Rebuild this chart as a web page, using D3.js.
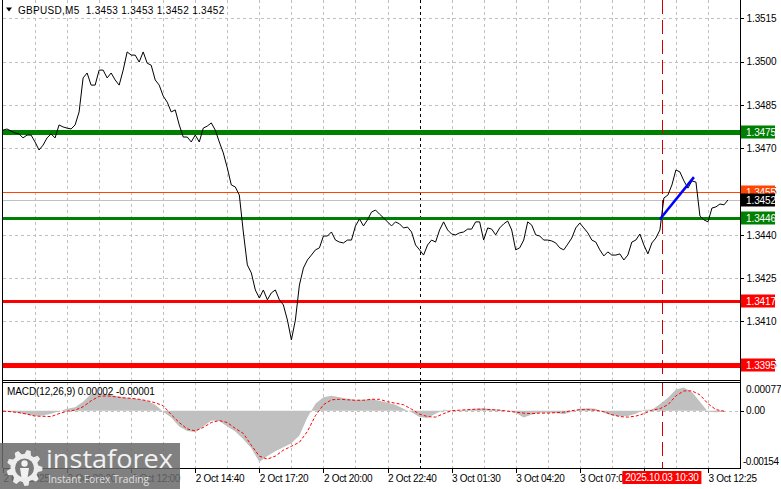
<!DOCTYPE html>
<html><head><meta charset="utf-8">
<script src="https://cdn.jsdelivr.net/npm/d3@7"></script>
<style>
html,body{margin:0;padding:0;background:#fff;}
svg{display:block;font-family:"Liberation Sans",Arial,sans-serif;}
</style></head><body>
<svg id="c" width="781" height="489"></svg>
<script>
// ---------------- DATA ----------------
const headerText = "GBPUSD,M5\u00a0\u00a01.3453 1.3453 1.3452 1.3452";
const macdTitle = "MACD(12,26,9) 0.00002 -0.00001";

// close prices, one value every 2 bars (M5)
const closes = [
1.34763,1.34767,1.34760,1.34753,1.34750,1.34736,1.34746,1.34746,1.34722,1.34694,
1.34711,1.34736,1.34750,1.34736,1.34781,1.34774,1.34770,1.34767,1.34781,1.34826,
1.34944,1.34961,1.34919,1.34919,1.34971,1.34971,1.34944,1.34961,1.34937,1.34919,
1.34971,1.35034,1.35023,1.35023,1.34999,1.35034,1.34995,1.34988,1.34937,1.34919,
1.34881,1.34860,1.34826,1.34833,1.34781,1.34739,1.34739,1.34722,1.34746,1.34722,
1.34770,1.34777,1.34788,1.34763,1.34722,1.34684,1.34632,1.34573,1.34566,1.34538,
1.34410,1.34296,1.34268,1.34209,1.34181,1.34209,1.34175,1.34199,1.34209,1.34175,
1.34157,1.34105,1.34036,1.34105,1.34226,1.34285,1.34313,1.34330,1.34348,1.34355,
1.34396,1.34396,1.34410,1.34382,1.34375,1.34372,1.34382,1.34382,1.34431,1.34455,
1.34431,1.34452,1.34479,1.34486,1.34472,1.34459,1.34445,1.34431,1.34445,1.34438,
1.34424,1.34427,1.34410,1.34365,1.34348,1.34330,1.34365,1.34382,1.34375,1.34417,
1.34445,1.34417,1.34403,1.34400,1.34407,1.34410,1.34420,1.34420,1.34445,1.34445,
1.34382,1.34424,1.34420,1.34400,1.34424,1.34438,1.34448,1.34417,1.34348,1.34355,
1.34382,1.34445,1.34434,1.34400,1.34396,1.34382,1.34382,1.34379,1.34372,1.34355,
1.34348,1.34368,1.34389,1.34424,1.34441,1.34424,1.34407,1.34382,1.34375,1.34348,
1.34327,1.34341,1.34330,1.34330,1.34334,1.34313,1.34330,1.34375,1.34382,1.34403,
1.34365,1.34334,1.34372,1.34389,1.34417,1.34528,1.34538,1.34573,1.34625,1.34618,
1.34587,1.34562,1.34587,1.34583,1.34465,1.34452,1.34445,1.34493,1.34497,1.34507,
1.34504,1.34521];
const closeStep = 2;

// MACD histogram and signal, one value every 4 bars
const macdHist = [
-0.000013,-0.000027,-0.000066,-0.000106,-0.000146,-0.000133,-0.000080,-0.000013,0.000053,0.000093,
0.000239,0.000451,0.000465,0.000438,0.000398,0.000358,0.000332,0.000305,0.000266,0.000159,
-0.000027,-0.000186,-0.000425,-0.000544,-0.000571,-0.000425,-0.000266,-0.000279,-0.000425,-0.000558,
-0.000770,-0.001009,-0.001381,-0.001221,-0.001089,-0.000982,-0.000876,-0.000664,-0.000186,0.000186,
0.000358,0.000398,0.000358,0.000319,0.000292,0.000292,0.000305,0.000266,0.000212,0.000159,
0.000053,-0.000040,-0.000173,-0.000199,-0.000080,0.000027,0.000013,0.000013,0.000027,0.000053,
0.000066,0.000040,0.000027,0,-0.000053,-0.000186,-0.000106,-0.000053,-0.000053,-0.000066,
-0.000093,-0.000027,0.000053,0.000066,0.000053,-0.000053,-0.000133,-0.000151,-0.000146,-0.000080,
0.000027,0.000027,0.000173,0.000345,0.000571,0.000624,0.000504,0.000239,-0.000027,-0.000040,
-0.000027];
const macdSignal = [
-0.000013,-0.000027,-0.000053,-0.000093,-0.000146,-0.000151,-0.000159,-0.000080,-0.000013,0.000013,
0.000106,0.000266,0.000385,0.000398,0.000372,0.000345,0.000332,0.000305,0.000266,0.000212,
0.000133,-0.000106,-0.000319,-0.000491,-0.000544,-0.000451,-0.000319,-0.000266,-0.000319,-0.000478,
-0.000611,-0.000929,-0.001221,-0.001301,-0.001221,-0.001062,-0.000956,-0.000850,-0.000558,-0.000133,
0.000159,0.000292,0.000305,0.000292,0.000279,0.000279,0.000305,0.000305,0.000239,0.000199,
0.000159,0.000040,-0.000093,-0.000159,-0.000173,-0.000080,0,0.000013,0.000027,0.000040,
0.000040,0.000027,0.000013,-0.000013,-0.000040,-0.000066,-0.000080,-0.000066,-0.000066,-0.000053,
-0.000040,0,0.000027,0.000027,0.000013,-0.000027,-0.000106,-0.000159,-0.000173,-0.000146,
-0.000080,0.000013,0.000053,0.000159,0.000398,0.000531,0.000531,0.000425,0.000186,0.000027,
-0.000013];
const macdStep = 4;

const priceTicks = [1.3515,1.3500,1.3485,1.3470,1.3455,1.3440,1.3425,1.3410,1.3395];
const macdTicks = [0.00077,0,-0.00154];
const macdTickLabels = ["0.00077","0.00","-0.00154"];

const timeTickBars = [0,32,64,96,128,160,192,224,256,288,320,352];
const timeLabels = ["2 Oct 2025","2 Oct 09:20","2 Oct 12:00","2 Oct 14:40","2 Oct 17:20","2 Oct 20:00",
                    "2 Oct 22:40","3 Oct 01:30","3 Oct 04:20","3 Oct 07:05","","3 Oct 12:25"];

const levelPrices = [1.34757,1.3455,1.3452,1.3446,1.3417,1.3395];
const levelLabels = ["1.3475","1.3455","1.3452","1.3446","1.3417","1.3395"];

const trendBars = [328,345];
const trendPrices = [1.34454,1.34600];

const daySeparatorBar = 208;
const markerBar = 329;
const markerLabel = "2025.10.03 10:30";

// ---------------- STYLES ----------------
const levelStyle = {
  "1.3475":{color:"#008000",width:5,box:"#008000",text:"#fff"},
  "1.3455":{color:"#ff4500",width:1,box:"#ff4500",text:"#fff"},
  "1.3452":{color:"#c0c0c0",width:1,box:"#000000",text:"#fff"},
  "1.3446":{color:"#008000",width:3,box:"#008000",text:"#fff"},
  "1.3417":{color:"#ff0000",width:3,box:"#ff0000",text:"#fff"},
  "1.3395":{color:"#ff0000",width:5,box:"#ff0000",text:"#fff"}
};
const levelDrawOrder = ["1.3475","1.3452","1.3455","1.3446","1.3417","1.3395"];
const boxDrawOrder = ["1.3475","1.3455","1.3452","1.3446","1.3417","1.3395"];

// ---------------- LAYOUT ----------------
const W=781,H=489;
const L=3,R=740,mainTop=0,mainBottom=380,macdTop=382,macdBottom=468;
const FS=10, LS="-0.1px";

const x = d3.scaleLinear().domain([0,368]).range([L,R]);
const y = d3.scaleLinear().domain([1.33897,1.35214]).range([mainBottom,mainTop]);
const ym = d3.scaleLinear().domain([-0.00154,0.00077]).range([macdBottom,macdTop]);
const px = v => Math.round(v)+0.5;

const svg = d3.select("#c");
svg.append("rect").attr("width",W).attr("height",H).attr("fill","#fff");

const defs = svg.append("defs");
defs.append("clipPath").attr("id","mainClip")
  .append("rect").attr("x",L).attr("y",mainTop).attr("width",R-L).attr("height",mainBottom-mainTop);
defs.append("clipPath").attr("id","macdClip")
  .append("rect").attr("x",L).attr("y",macdTop).attr("width",R-L).attr("height",macdBottom-macdTop);

// ---- grid ----
const gridBars = d3.range(16, 353, 16);
const grid = svg.append("g").attr("stroke","#c0c0c0").attr("stroke-dasharray","3,3")
  .attr("shape-rendering","crispEdges").attr("stroke-width",1);
grid.selectAll(".vm").data(gridBars).join("line").attr("class","vm")
  .attr("x1",d=>px(x(d))).attr("x2",d=>px(x(d))).attr("y1",mainTop).attr("y2",mainBottom);
grid.selectAll(".vd").data(gridBars).join("line").attr("class","vd")
  .attr("x1",d=>px(x(d))).attr("x2",d=>px(x(d))).attr("y1",macdTop).attr("y2",macdBottom);
grid.selectAll(".h").data(priceTicks).join("line").attr("class","h")
  .attr("x1",L).attr("x2",R).attr("y1",d=>px(y(d))).attr("y2",d=>px(y(d)));
grid.append("line").attr("x1",L).attr("x2",R).attr("y1",px(ym(0))).attr("y2",px(ym(0)));

// ---- day separator ----
const sep = svg.append("g").attr("stroke","#000").attr("stroke-dasharray","3,3").attr("shape-rendering","crispEdges");
[[mainTop,mainBottom],[macdTop,macdBottom]].forEach(([a,b])=>{
  sep.append("line").attr("x1",px(x(daySeparatorBar))).attr("x2",px(x(daySeparatorBar))).attr("y1",a).attr("y2",b);
});

// ---- level lines ----
const lv = svg.append("g").attr("clip-path","url(#mainClip)");
levelDrawOrder.forEach(lbl=>{
  const i = levelLabels.indexOf(lbl), st = levelStyle[lbl];
  const yy = st.width % 2 ? px(y(levelPrices[i])) : Math.round(y(levelPrices[i]));
  lv.append("line").attr("x1",L).attr("x2",R).attr("y1",yy).attr("y2",yy)
    .attr("stroke",st.color).attr("stroke-width",st.width).attr("shape-rendering","crispEdges");
});

// ---- marker red dashed line ----
[[mainTop,mainBottom],[macdTop,macdBottom]].forEach(([a,b])=>{
  svg.append("line").attr("x1",px(x(markerBar))).attr("x2",px(x(markerBar))).attr("y1",a).attr("y2",b)
    .attr("stroke","#d00000").attr("stroke-dasharray","14,6").attr("shape-rendering","crispEdges");
});

// ---- price line ----
svg.append("path").datum(closes).attr("clip-path","url(#mainClip)")
  .attr("fill","none").attr("stroke","#000").attr("stroke-width",1)
  .attr("d", d3.line().x((d,i)=>x(i*closeStep)).y(d=>y(d)));

// ---- trend line ----
svg.append("line").attr("x1",x(trendBars[0])).attr("y1",y(trendPrices[0]))
  .attr("x2",x(trendBars[1])).attr("y2",y(trendPrices[1]))
  .attr("stroke","#0000ff").attr("stroke-width",2.5);

// ---- MACD ----
const mg = svg.append("g").attr("clip-path","url(#macdClip)");
mg.append("path").datum(macdHist).attr("fill","#c0c0c0")
  .attr("d", d3.area().x((d,i)=>x(i*macdStep)).y0(ym(0)).y1(d=>ym(d)));
mg.append("path").datum(macdSignal).attr("fill","none").attr("stroke","#ff0000")
  .attr("stroke-width",1).attr("stroke-dasharray","3,2")
  .attr("d", d3.line().x((d,i)=>x(i*macdStep)).y(d=>ym(d)));

// ---- frames ----
const fr = svg.append("g").attr("stroke","#000").attr("shape-rendering","crispEdges");
fr.append("line").attr("x1",L-0.5).attr("x2",L-0.5).attr("y1",0).attr("y2",macdBottom);
fr.append("line").attr("x1",R+0.5).attr("x2",R+0.5).attr("y1",0).attr("y2",macdBottom+0.5);
fr.append("line").attr("x1",L-0.5).attr("x2",R+0.5).attr("y1",mainBottom+0.5).attr("y2",mainBottom+0.5);
fr.append("line").attr("x1",L-0.5).attr("x2",R+0.5).attr("y1",macdTop+0.5).attr("y2",macdTop+0.5);
fr.append("line").attr("x1",L-0.5).attr("x2",R+0.5).attr("y1",macdBottom+0.5).attr("y2",macdBottom+0.5);

// ---- price axis ----
const ax = svg.append("g").attr("transform",`translate(${R+0.5},0)`)
  .call(d3.axisRight(y).tickValues(priceTicks).tickSize(3).tickPadding(3).tickFormat(d3.format(".4f")));
ax.select(".domain").remove();
ax.selectAll("text").attr("font-size",FS).attr("font-family","Liberation Sans, Arial, sans-serif")
  .attr("letter-spacing",LS).attr("fill","#000");
ax.selectAll("line").attr("stroke","#000").attr("shape-rendering","crispEdges");

// level boxes
boxDrawOrder.forEach(lbl=>{
  const i = levelLabels.indexOf(lbl), st = levelStyle[lbl];
  const yy = Math.round(y(levelPrices[i]));
  svg.append("rect").attr("x",R+1).attr("y",yy-6.5).attr("width",34).attr("height",13).attr("fill",st.box);
  svg.append("text").attr("x",R+6).attr("y",yy+3.5).attr("font-size",FS).attr("letter-spacing",LS)
    .attr("fill",st.text).text(lbl);
});

// MACD axis labels
svg.selectAll(".mt").data(macdTicks).join("text").attr("class","mt")
  .attr("x",(d,i)=> i===2 ? R+3 : R+6)
  .attr("y",(d,i)=> i===0 ? ym(d)+10.5 : (i===2 ? ym(d)-3 : ym(d)+3.5))
  .attr("font-size",FS).attr("letter-spacing",(d,i)=> i===2 ? "-0.5px" : LS).attr("fill","#000")
  .text((d,i)=>macdTickLabels[i]);
svg.append("line").attr("x1",R+0.5).attr("x2",R+3.5).attr("y1",px(ym(0))).attr("y2",px(ym(0)))
  .attr("stroke","#000").attr("shape-rendering","crispEdges");

// ---- time axis ----
const tx = svg.append("g").attr("transform",`translate(0,${macdBottom+0.5})`)
  .call(d3.axisBottom(x).tickValues(timeTickBars).tickSize(4).tickPadding(2).tickFormat((d,i)=>timeLabels[i]));
tx.select(".domain").remove();
tx.selectAll("text").attr("text-anchor","start").attr("x",0).attr("font-size",FS)
  .attr("font-family","Liberation Sans, Arial, sans-serif").attr("letter-spacing","-0.3px").attr("fill","#000");
tx.selectAll("line").attr("stroke","#000").attr("shape-rendering","crispEdges");

// marker time label
const mx = x(markerBar);
svg.append("rect").attr("x",mx-39.5).attr("y",471).attr("width",79).attr("height",13).attr("fill","#ff0000");
svg.append("text").attr("x",mx).attr("y",481).attr("text-anchor","middle").attr("font-size",FS)
  .attr("letter-spacing","-0.3px").attr("fill","#fff").text(markerLabel);

// ---- header & MACD title ----
svg.append("path").attr("d","M6,7.5L12,7.5L9,11.5Z").attr("fill","#000");
svg.append("text").attr("x",18).attr("y",13.5).attr("font-size",FS).attr("letter-spacing","0.3px")
  .attr("fill","#000").text(headerText);
svg.append("text").attr("x",7).attr("y",395).attr("font-size",FS).attr("letter-spacing",LS)
  .attr("fill","#000").text(macdTitle);

// ---- watermark ----
const wm = svg.append("g");
wm.append("rect").attr("x",0).attr("y",443).attr("width",180).attr("height",46)
  .attr("fill","#6a6a6a").attr("opacity",0.85);
function gearPath(cx,cy,ro,ri,n){
  const pts=[];
  for(let k=0;k<n;k++){
    const a0 = k/n*2*Math.PI - Math.PI/2, s = 2*Math.PI/n;
    const seq=[[ri,a0],[ro,a0+s*0.18],[ro,a0+s*0.5],[ri,a0+s*0.68]];
    seq.forEach(([r,a])=>pts.push([cx+r*Math.cos(a), cy+r*Math.sin(a)]));
  }
  return "M"+pts.map(p=>p[0].toFixed(1)+","+p[1].toFixed(1)).join("L")+"Z";
}
wm.append("path").attr("d",gearPath(24.5,468,18,14,9)).attr("fill","#f2f2f2").attr("opacity",0.95);
wm.append("circle").attr("cx",24.5).attr("cy",468).attr("r",9.5).attr("fill","#7a7a7a");
wm.append("circle").attr("cx",24.5).attr("cy",463.5).attr("r",3.2).attr("fill","#f2f2f2");
wm.append("path").attr("d","M20,468L29,468L27.5,478L21.5,478Z").attr("fill","#f2f2f2");
wm.append("text").attr("x",46).attr("y",468).attr("font-family","Open Sans, Lato, sans-serif")
  .attr("font-size",25).attr("textLength",127).attr("lengthAdjust","spacingAndGlyphs")
  .attr("fill","#f2f2f2").text("instaforex");
wm.append("text").attr("x",48).attr("y",483).attr("font-family","Open Sans, Lato, sans-serif")
  .attr("font-size",10.5).attr("textLength",101).attr("lengthAdjust","spacingAndGlyphs")
  .attr("fill","#e0e0e0").text("Instant Forex Trading");
</script></body></html>
